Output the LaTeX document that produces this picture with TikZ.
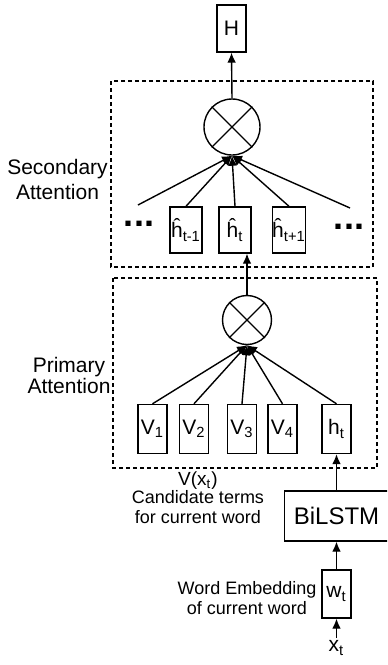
\documentclass[tikz,border=0pt]{standalone}
\usepackage{fontspec}
\setmainfont{Liberation Sans}
\usetikzlibrary{arrows.meta}

\begin{document}
\begin{tikzpicture}[x=0.5pt,y=-0.5pt,line width=0.7pt,
  >={Latex[length=5pt,width=4.4pt]},
  box/.style={draw,inner sep=0pt,minimum width=14.5pt,minimum height=24.5pt,font=\fontsize{10.5}{12}\selectfont},
  hatbox/.style={box,minimum width=16pt,minimum height=23pt},
  mult/.style={draw,circle,inner sep=0pt},
  frame/.style={draw,dash pattern=on 2pt off 1.5pt},
  note/.style={align=center,font=\fontsize{9}{10}\selectfont},
  dots/.style={font=\bfseries\fontsize{18}{18}\selectfont,inner sep=0pt}]
 \clip (0,0) rectangle (387,665);
 % secondary attention
 \draw[frame] (111,81) rectangle (373,267);
 \node[align=center,font=\fontsize{10.5}{12.5}\selectfont] (seclbl) at (57.5,179) {Secondary\\Attention};
 \node[box,minimum height=23.5pt] (H) at (231.5,28.5) {H};
 \node[mult,minimum size=28pt] (sc) at (232,127) {};
 \draw (sc.45) -- (sc.225) (sc.135) -- (sc.315);
 \draw[->] (sc.north) -- (H.south);
 \node[dots] (ldots) at (139,224) {...};
 \node[dots] (rdots) at (349,227) {...};
 \coordinate (lfree) at (138,205);
 \coordinate (rfree) at (350,208);
 \node[hatbox] (htm) at (186,230) {\^{h}\textsubscript{t-1}};
 \node[hatbox] (ht) at (235,230) {\^{h}\textsubscript{t}};
 \node[hatbox] (htp) at (289,230) {\^{h}\textsubscript{t+1}};
 \foreach \n in {lfree,htm.north,ht.north,htp.north,rfree}
   \draw[->] (\n) -- (sc.south);
 % primary attention
 \draw[frame] (113,278) rectangle (377,468);
 \node[align=center,font=\fontsize{10.5}{10.5}\selectfont] (prilbl) at (69,375) {Primary\\Attention};
 \node[mult,minimum size=24.5pt] (pc) at (247,320) {};
 \draw (pc.45) -- (pc.225) (pc.135) -- (pc.315);
 \draw[->] (pc.north) -- (pc.north |- ht.south);
 \foreach \n/\x/\t in {v1/152.5/V\textsubscript{1},v2/194/V\textsubscript{2},v3/242/V\textsubscript{3},v4/282.5/V\textsubscript{4},hpt/336.5/h\textsubscript{t}}{
   \node[box] (\n) at (\x,429) {\t};
   \draw[->] (\n.north) -- (pc.south);
 }
 \node[font=\fontsize{9.5}{10}\selectfont] (vx) at (198,481) {V(x\textsubscript{t})};
 \node[note] (cand) at (198,507) {Candidate terms\\for current word};
 % encoder
 \node[draw,minimum width=52pt,minimum height=25pt,font=\fontsize{12}{14}\selectfont] (lstm) at (336.5,516) {BiLSTM};
 \draw[->] (lstm.north) -- (hpt.south);
 \node[box,minimum height=24pt] (wt) at (336.5,594) {w\textsubscript{t}};
 \node[note] (emb) at (247,598) {Word Embedding\\of current word};
 \draw[->] (wt.north) -- (lstm.south);
 \node[font=\fontsize{10.5}{12}\selectfont,inner sep=1pt] (xt) at (336.5,648) {x\textsubscript{t}};
 \draw[->] (xt.north) -- (wt.south);
\end{tikzpicture}
\end{document}
